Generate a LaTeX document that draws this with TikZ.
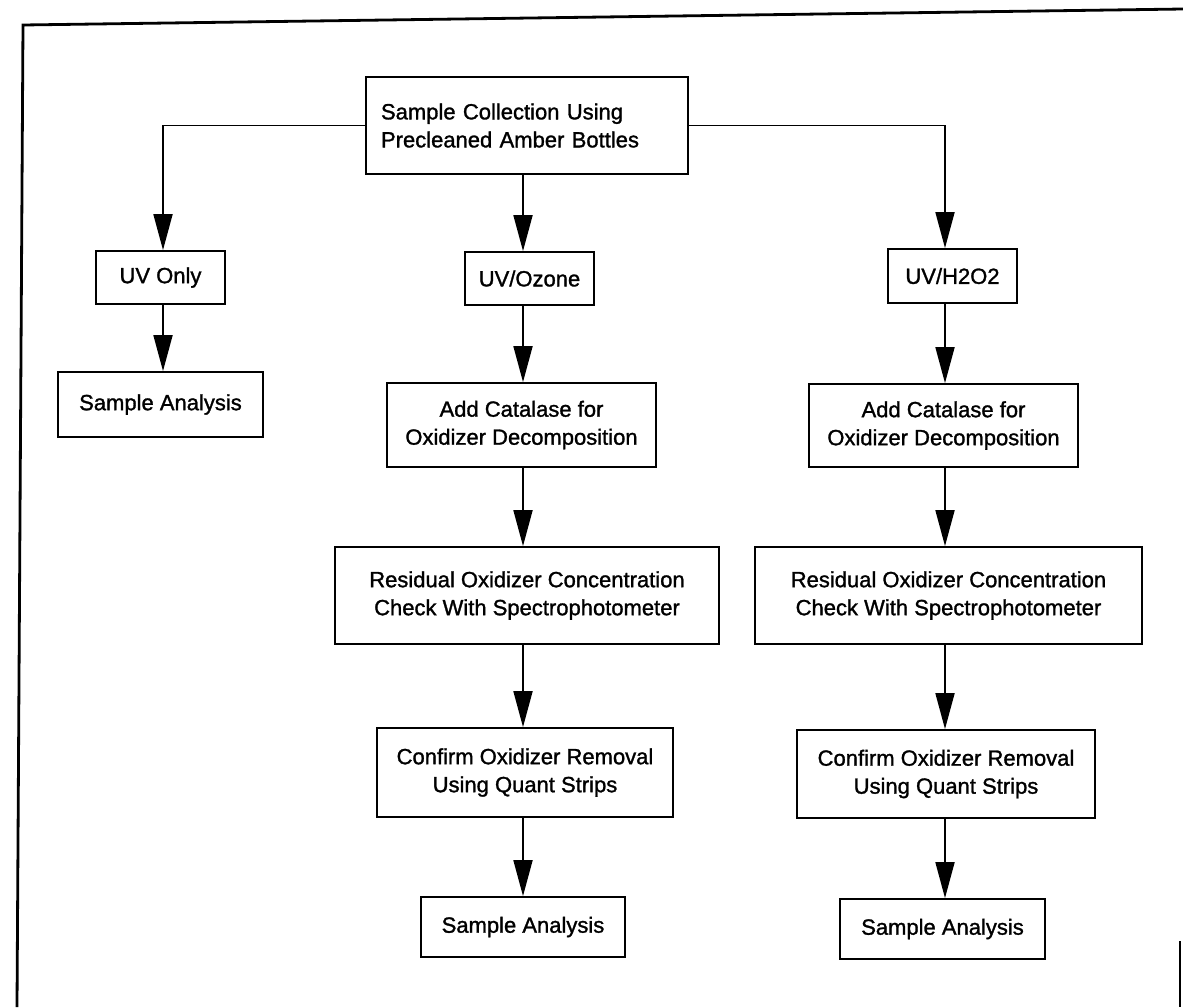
\documentclass[tikz,border=0pt]{standalone}
\usepackage{fontspec}
\setmainfont{Liberation Sans}
\newfontfamily\scanfont{Liberation Sans}[FakeBold=1.3]
\usetikzlibrary{arrows.meta}
\begin{document}
\begin{tikzpicture}[x=1pt,y=-1pt,
  box/.style={draw=black, line width=1.8pt, inner sep=0pt, align=center,
    font=\scanfont\fontsize{22}{28}\selectfont},
  arr/.style={line width=1.8pt, -{Triangle[length=36pt,width=19pt]}},
  frameline/.style={line width=2.8pt}]
\useasboundingbox (0,0) rectangle (1183,1007);
% frame
\coordinate (f1) at (23,25);
\coordinate (f2) at (1183,9);
\coordinate (f3) at (17,1007);
\coordinate (f4) at (1180,941);
\coordinate (f5) at (1180,1007);
\draw[frameline] (f3) -- (f1) -- (f2);
\draw[frameline] (f4) -- (f5);
% nodes
\node[box, text width=292pt, inner xsep=15pt, minimum height=97pt, align=left] (top) at (527,125.5)
  {Sample Collection Using\\Precleaned Amber Bottles};
\node[box, minimum width=129pt, minimum height=53pt] (uvonly) at (160.5,277.5) {UV Only};
\node[box, minimum width=205pt, minimum height=65pt] (saL) at (160.5,404.5) {Sample Analysis};
\node[box, minimum width=129pt, minimum height=53pt] (uvoz) at (529.5,278.5) {UV/Ozone};
\node[box, minimum width=269pt, minimum height=84pt] (acM) at (521.5,425) {Add Catalase for\\Oxidizer Decomposition};
\node[box, minimum width=384pt, minimum height=97pt] (resM) at (527,595.5) {Residual Oxidizer Concentration\\Check With Spectrophotometer};
\node[box, minimum width=296pt, minimum height=89pt] (conM) at (525,772.5) {Confirm Oxidizer Removal\\Using Quant Strips};
\node[box, minimum width=204pt, minimum height=60pt] (saM) at (523,927) {Sample Analysis};
\node[box, minimum width=129pt, minimum height=54pt] (uvh) at (952.5,276) {UV/H2O2};
\node[box, minimum width=269pt, minimum height=83pt] (acR) at (943.5,425.5) {Add Catalase for\\Oxidizer Decomposition};
\node[box, minimum width=387pt, minimum height=97pt] (resR) at (948.5,595.5) {Residual Oxidizer Concentration\\Check With Spectrophotometer};
\node[box, minimum width=298pt, minimum height=88pt] (conR) at (946,774) {Confirm Oxidizer Removal\\Using Quant Strips};
\node[box, minimum width=205pt, minimum height=60pt] (saR) at (942.5,929) {Sample Analysis};
% column x positions
\coordinate (cl) at (163,0);
\coordinate (cm) at (523,0);
\coordinate (cr) at (945,0);
% connectors
\draw[arr] (top.west) -| (uvonly.north -| cl);
\draw[arr] (uvonly.south -| cl) -- (saL.north -| cl);
\draw[arr] (top.south -| cm) -- (uvoz.north -| cm);
\draw[arr] (uvoz.south -| cm) -- (acM.north -| cm);
\draw[arr] (acM.south -| cm) -- (resM.north -| cm);
\draw[arr] (resM.south -| cm) -- (conM.north -| cm);
\draw[arr] (conM.south -| cm) -- (saM.north -| cm);
\draw[arr] (top.east) -| (uvh.north -| cr);
\draw[arr] (uvh.south -| cr) -- (acR.north -| cr);
\draw[arr] (acR.south -| cr) -- (resR.north -| cr);
\draw[arr] (resR.south -| cr) -- (conR.north -| cr);
\draw[arr] (conR.south -| cr) -- (saR.north -| cr);
\end{tikzpicture}
\end{document}
